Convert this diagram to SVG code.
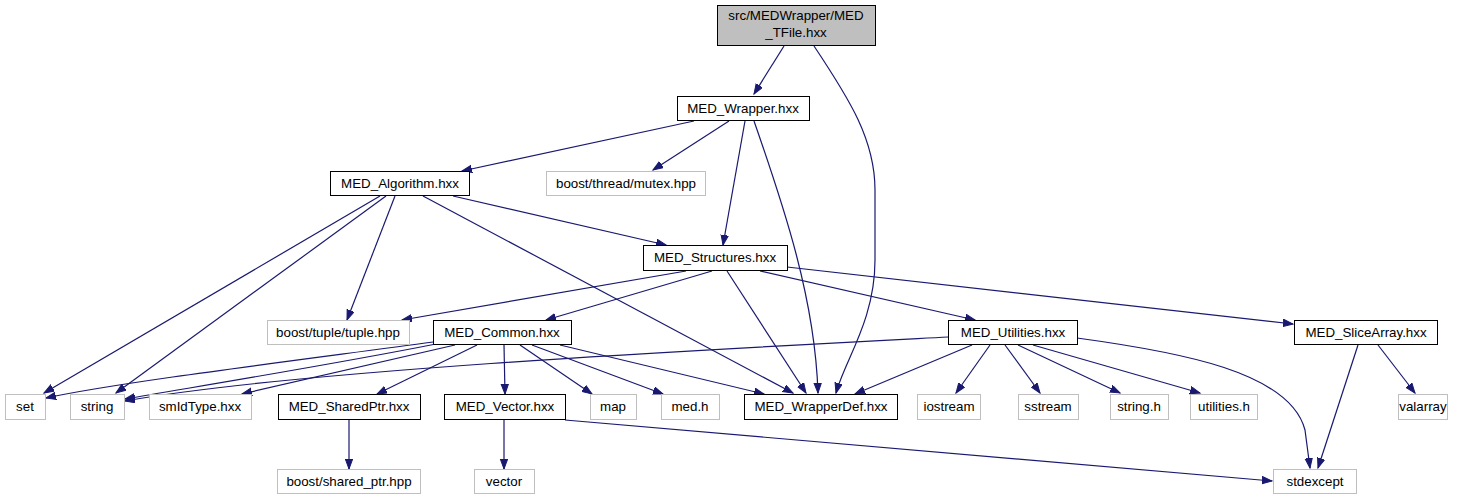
<svg xmlns="http://www.w3.org/2000/svg" width="1477" height="500" viewBox="0 0 1477 500">
<style>
.n rect{fill:#fff;stroke:#000;stroke-width:1}
.g rect{fill:#fff;stroke:#bfbfbf;stroke-width:1}
.r rect{fill:#bfbfbf;stroke:#000;stroke-width:1}
text{font-family:"Liberation Sans",Arial,sans-serif;font-size:13.33px;fill:#000;text-anchor:middle}
#edges path{fill:none;stroke:#191970;stroke-width:1.2;marker-end:url(#a)}
</style>
<defs>
<marker id="a" markerUnits="userSpaceOnUse" markerWidth="12" markerHeight="9" refX="10" refY="4" orient="auto" viewBox="0 0 12 9">
<path d="M0,0.3 L10,4 L0,7.7 z" fill="#191970" stroke="#191970" stroke-width="1"/>
</marker>
</defs>
<rect width="1477" height="500" fill="#fff"/>
<g id="edges">
<path d="M784,46 L754,94"/>
<path d="M814,46 C850,100 875,140 875,190 L875,260 C875,320 845,360 836,393"/>
<path d="M694,121 L462,171"/>
<path d="M729,121 L653,170"/>
<path d="M745,121 L723,245"/>
<path d="M754,121 C785,210 815,300 818,393"/>
<path d="M380,196 L44,393"/>
<path d="M386,196 L116,393"/>
<path d="M395,196 L347,320"/>
<path d="M423,196 L793,393"/>
<path d="M453,196 L666,245"/>
<path d="M686,271 L402,320"/>
<path d="M712,271 L546,320"/>
<path d="M727,271 L806,393"/>
<path d="M760,271 L975,320"/>
<path d="M787,267 L1293,324"/>
<path d="M433,342 C300,360 120,382 46,398"/>
<path d="M436,344 C330,365 200,386 125,399"/>
<path d="M455,345 L242,394"/>
<path d="M477,345 L377,394"/>
<path d="M504,345 L505,394"/>
<path d="M520,345 L592,394"/>
<path d="M532,345 L663,394"/>
<path d="M560,345 L764,394"/>
<path d="M948,337 C700,350 300,370 125,401"/>
<path d="M972,345 L855,394"/>
<path d="M990,345 L956,393"/>
<path d="M1005,345 L1040,393"/>
<path d="M1018,345 L1120,393"/>
<path d="M1033,345 L1200,393"/>
<path d="M1077,338 C1180,352 1290,372 1305,430 L1310,468"/>
<path d="M1358,345 L1318,468"/>
<path d="M1378,345 L1415,393"/>
<path d="M349,420 L349,469"/>
<path d="M504,420 L504,469"/>
<path d="M565,420 L1272,481"/>
</g>
<g id="root" class="r"><rect x="717.5" y="5.5" width="158" height="40"/><text x="796" y="20">src/MEDWrapper/MED</text><text x="796" y="37">_TFile.hxx</text></g>
<g id="wrapper" class="n"><rect x="677.5" y="96.5" width="132" height="24"/><text x="743" y="113">MED_Wrapper.hxx</text></g>
<g id="algorithm" class="n"><rect x="330.5" y="171.5" width="139" height="24"/><text x="400" y="188">MED_Algorithm.hxx</text></g>
<g id="mutex" class="g"><rect x="546.5" y="171.5" width="159" height="24"/><text x="626" y="188">boost/thread/mutex.hpp</text></g>
<g id="structures" class="n"><rect x="643.5" y="245.5" width="144" height="25"/><text x="715" y="262">MED_Structures.hxx</text></g>
<g id="tuple" class="g"><rect x="267.5" y="320.5" width="142" height="24"/><text x="338" y="337">boost/tuple/tuple.hpp</text></g>
<g id="common" class="n"><rect x="433.5" y="320.5" width="138" height="24"/><text x="502" y="337">MED_Common.hxx</text></g>
<g id="utilities" class="n"><rect x="948.5" y="320.5" width="129" height="24"/><text x="1013" y="337">MED_Utilities.hxx</text></g>
<g id="slicearray" class="n"><rect x="1294.5" y="320.5" width="143" height="24"/><text x="1366" y="337">MED_SliceArray.hxx</text></g>
<g id="set" class="g"><rect x="5.5" y="394.5" width="40" height="25"/><text x="25" y="411">set</text></g>
<g id="string" class="g"><rect x="70.5" y="394.5" width="54" height="25"/><text x="97" y="411">string</text></g>
<g id="smidtype" class="g"><rect x="149.5" y="394.5" width="102" height="25"/><text x="200" y="411">smIdType.hxx</text></g>
<g id="sharedptr" class="n"><rect x="278.5" y="394.5" width="142" height="25"/><text x="349" y="411">MED_SharedPtr.hxx</text></g>
<g id="vectorh" class="n"><rect x="444.5" y="394.5" width="121" height="25"/><text x="505" y="411">MED_Vector.hxx</text></g>
<g id="map" class="g"><rect x="590.5" y="394.5" width="46" height="25"/><text x="613" y="411">map</text></g>
<g id="medh" class="g"><rect x="661.5" y="394.5" width="58" height="25"/><text x="690" y="411">med.h</text></g>
<g id="wrapperdef" class="n"><rect x="744.5" y="394.5" width="153" height="25"/><text x="821" y="411">MED_WrapperDef.hxx</text></g>
<g id="iostream" class="g"><rect x="917.5" y="394.5" width="63" height="25"/><text x="949" y="411">iostream</text></g>
<g id="sstream" class="g"><rect x="1018.5" y="394.5" width="60" height="25"/><text x="1048" y="411">sstream</text></g>
<g id="stringh" class="g"><rect x="1110.5" y="394.5" width="58" height="25"/><text x="1139" y="411">string.h</text></g>
<g id="utilitiesh" class="g"><rect x="1190.5" y="394.5" width="67" height="25"/><text x="1224" y="411">utilities.h</text></g>
<g id="valarray" class="g"><rect x="1398.5" y="394.5" width="49" height="25"/><text x="1423" y="411">valarray</text></g>
<g id="sharedptrhpp" class="g"><rect x="277.5" y="469.5" width="143" height="24"/><text x="349" y="486">boost/shared_ptr.hpp</text></g>
<g id="vector" class="g"><rect x="474.5" y="469.5" width="60" height="24"/><text x="504" y="486">vector</text></g>
<g id="stdexcept" class="g"><rect x="1273.5" y="469.5" width="83" height="24"/><text x="1315" y="486">stdexcept</text></g>
</svg>
